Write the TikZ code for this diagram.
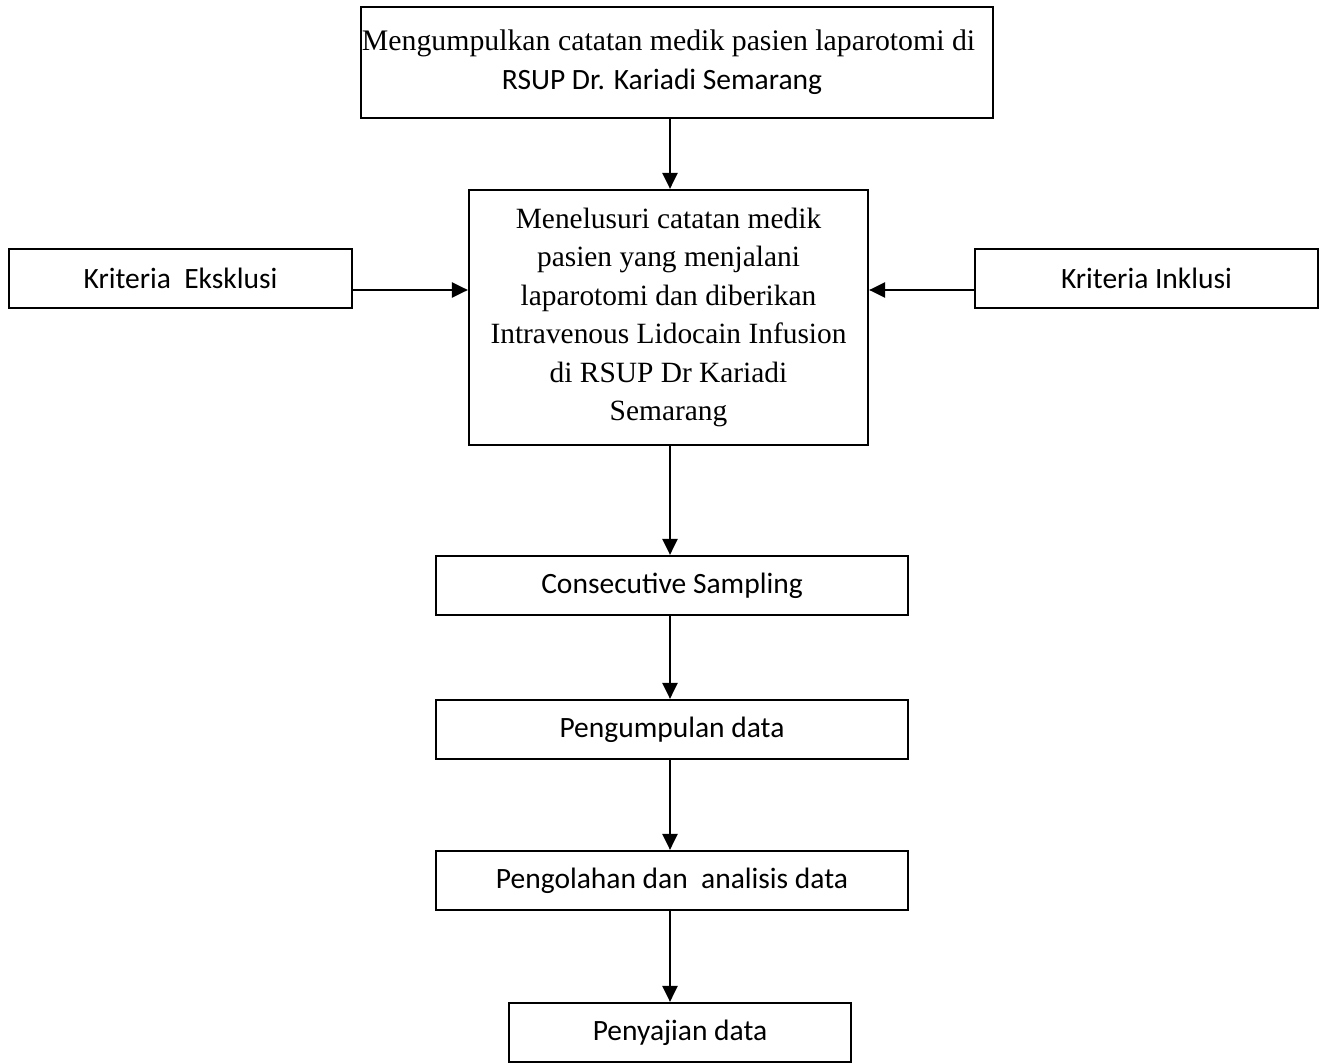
\documentclass[tikz,border=0pt]{standalone}
\usepackage{fontspec}
\setmainfont{Liberation Serif}
\newfontfamily\carlitofam{Carlito}
\usetikzlibrary{arrows.meta,calc}
\begin{document}
\begin{tikzpicture}[x=1pt,y=-1pt,
  box/.style={draw,line width=2.2pt,inner sep=0pt,align=center},
  arr/.style={line width=2.4pt,-{Triangle[length=16pt,width=15pt]}},
  sans/.style={font=\carlitofam\fontsize{29.5}{36}\selectfont},
  serif/.style={font=\fontsize{29.4}{38.5}\selectfont}]
\useasboundingbox (0,0) rectangle (1322,1064);
\node[box,minimum width=632pt,minimum height=111pt] (top) at (677,62.5)
  {{\fontsize{29.8}{36}\selectfont Mengumpulkan catatan medik pasien laparotomi di}\hspace*{17pt}\\[11pt]{\carlitofam\fontsize{29.5}{36}\selectfont RSUP Dr. Kariadi Semarang}\hspace*{30pt}};
\node[box,serif,minimum width=399pt,minimum height=255pt] (mid) at (668.5,317.5)
  {Menelusuri catatan medik\\pasien yang menjalani\\laparotomi dan diberikan\\Intravenous Lidocain Infusion\\di RSUP Dr Kariadi\\Semarang};
\node[box,sans,minimum width=343pt,minimum height=59pt] (eks) at (180.5,278.5) {Kriteria\ \ Eksklusi};
\node[box,sans,minimum width=343pt,minimum height=59pt] (ink) at (1146.5,278.5) {Kriteria Inklusi};
\node[box,sans,minimum width=472pt,minimum height=59pt] (cs) at (672,585.5) {Consecutive Sampling};
\node[box,sans,minimum width=472pt,minimum height=59pt] (pd) at (672,729.5) {Pengumpulan data};
\node[box,sans,minimum width=472pt,minimum height=59pt] (pa) at (672,880.5) {Pengolahan dan\ \ analisis data};
\node[box,sans,minimum width=342pt,minimum height=59pt] (ps) at (680,1032.5) {Penyajian data};
\coordinate (ax) at (670,0);
\draw[arr] (top.south -| ax) -- (mid.north -| ax);
\draw[arr] (mid.south -| ax) -- (cs.north -| ax);
\draw[arr] (cs.south -| ax) -- (pd.north -| ax);
\draw[arr] (pd.south -| ax) -- (pa.north -| ax);
\draw[arr] (pa.south -| ax) -- (ps.north -| ax);
\coordinate (ay) at (0,290);
\draw[arr] (eks.east |- ay) -- (mid.west |- ay);
\draw[arr] (ink.west |- ay) -- (mid.east |- ay);
\end{tikzpicture}
\end{document}
